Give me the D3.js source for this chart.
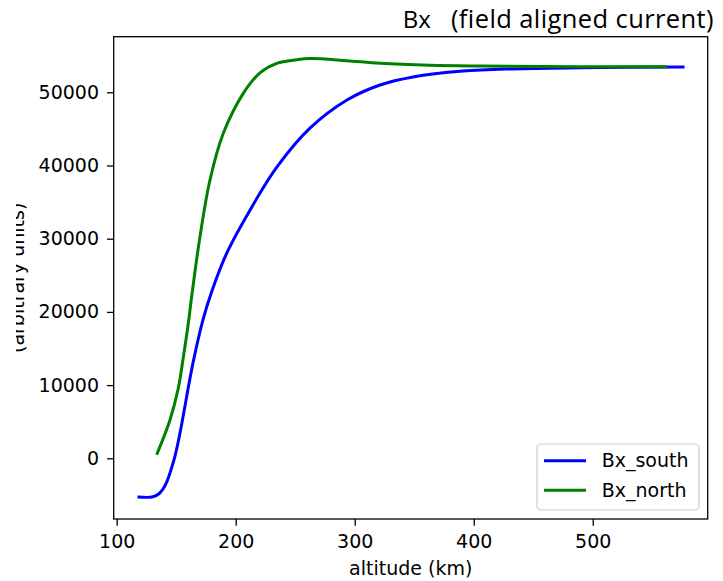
<!DOCTYPE html>
<html>
<head>
<meta charset="utf-8">
<script src="https://cdn.jsdelivr.net/npm/d3@7"></script>
<style>
  body { margin: 0; background: #fff; }
  text { font-family: "DejaVu Sans", sans-serif; fill: #000; }
</style>
</head>
<body>
<script>
// altitude (km) and Bx values
var alt_south = [118.7, 129.7, 134.7, 138.9, 142.3, 145.6, 149.0, 151.5, 154.9, 159.1, 164.1, 172.5, 180.1, 192.7, 212.0, 234.7, 262.4, 293.5, 321.3, 349.0, 391.0, 433.0, 489.3, 575.9];
var bx_south  = [-5300, -5290, -4950, -4200, -3150, -1600, 300, 2100, 4900, 8700, 13000, 18900, 22900, 28100, 33900, 39800, 45100, 48950, 51000, 52100, 52900, 53200, 53350, 53460];

var alt_north = [134.1, 144.8, 151.8, 156.0, 160.2, 163.0, 170.0, 178.4, 189.6, 206.4, 220.4, 234.5, 251.3, 262.4, 293.3, 321.3, 363.3, 405.3, 489.3, 561.3];
var bx_north  = [680, 5230, 9600, 13800, 18440, 22080, 30270, 38020, 44400, 49860, 52650, 53950, 54450, 54620, 54320, 53960, 53690, 53590, 53500, 53500];

var xticks = [100, 200, 300, 400, 500];
var yticks = [0, 10000, 20000, 30000, 40000, 50000];

var series = [
  {name: "Bx_south", alt: alt_south, val: bx_south, color: "#0000ff"},
  {name: "Bx_north", alt: alt_north, val: bx_north, color: "#008000"}
];

var W = 723, H = 581;
var pL = 113.7, pR = 707.7, pT = 36.7, pB = 519;

var svg = d3.select("body").append("svg")
    .attr("width", W)
    .attr("height", H);

var x = d3.scaleLinear().domain([97.5, 596.6]).range([pL, pR]);
var y = d3.scaleLinear().domain([-8292, 57596]).range([pB, pT]);

// axes
var xAxis = d3.axisBottom(x).tickValues(xticks).tickSize(6.7).tickSizeOuter(0).tickPadding(8.5);
var yAxis = d3.axisLeft(y).tickValues(yticks).tickFormat(d3.format("d")).tickSize(6.7).tickSizeOuter(0).tickPadding(8);

var gx = svg.append("g").attr("transform", "translate(0," + pB + ")").call(xAxis);
var gy = svg.append("g").attr("transform", "translate(" + pL + ",0)").call(yAxis);
[gx, gy].forEach(function (g) {
  g.select(".domain").remove();
  g.selectAll(".tick line").attr("stroke", "#000").attr("stroke-width", 1.3);
  g.selectAll(".tick text").style("font-size", "19px").attr("fill", "#000");
});

// lines
svg.append("clipPath").attr("id", "plotclip")
  .append("rect").attr("x", pL).attr("y", pT).attr("width", pR - pL).attr("height", pB - pT);

var line = d3.line()
    .x(function (d) { return x(d[0]); })
    .y(function (d) { return y(d[1]); })
    .curve(d3.curveCatmullRom.alpha(0.5));

series.forEach(function (s) {
  var pts = s.alt.map(function (a, i) { return [a, s.val[i]]; });
  svg.append("path")
    .datum(pts)
    .attr("d", line)
    .attr("fill", "none")
    .attr("stroke", s.color)
    .attr("stroke-width", 3)
    .attr("stroke-linecap", "square")
    .attr("clip-path", "url(#plotclip)");
});

// frame
svg.append("rect")
  .attr("x", pL).attr("y", pT)
  .attr("width", pR - pL).attr("height", pB - pT)
  .attr("fill", "none").attr("stroke", "#000").attr("stroke-width", 1.3);

// legend
var lg = svg.append("g");
lg.append("rect")
  .attr("x", 537).attr("y", 444).attr("width", 162).attr("height", 66).attr("rx", 4)
  .attr("fill", "#fff").attr("fill-opacity", 0.8)
  .attr("stroke", "#cccccc").attr("stroke-width", 1.2);
series.forEach(function (s, i) {
  var ly = 460.7 + i * 29.5;
  lg.append("line")
    .attr("x1", 544).attr("x2", 586).attr("y1", ly).attr("y2", ly)
    .attr("stroke", s.color).attr("stroke-width", 3);
  lg.append("text")
    .attr("x", 601.7).attr("y", ly).attr("dy", "0.35em")
    .style("font-size", "19px")
    .text(s.name);
});

// axis labels
svg.append("text")
  .attr("x", (pL + pR) / 2).attr("y", 575)
  .attr("text-anchor", "middle")
  .style("font-size", "19px")
  .text("altitude (km)");

svg.append("clipPath").attr("id", "ylabclip")
  .append("rect").attr("x", 16).attr("y", 0).attr("width", 100).attr("height", H);
svg.append("g").attr("clip-path", "url(#ylabclip)")
  .append("text")
  .attr("transform", "translate(24," + ((pT + pB) / 2) + ") rotate(-90)")
  .attr("text-anchor", "middle")
  .style("font-size", "19px")
  .text("(arbitrary units)");

// title: small "Bx" then the larger caption
var title = svg.append("text")
  .attr("x", 714).attr("y", 27.5)
  .attr("text-anchor", "end")
  .style("font-family", "'Open Sans', sans-serif")
  .style("font-variant-ligatures", "none");
title.append("tspan").style("font-size", "24px").text("Bx");
title.append("tspan").attr("dx", 20).style("font-size", "25.5px").style("letter-spacing", "0.4px").text("(field aligned current)");
</script>
</body>
</html>
